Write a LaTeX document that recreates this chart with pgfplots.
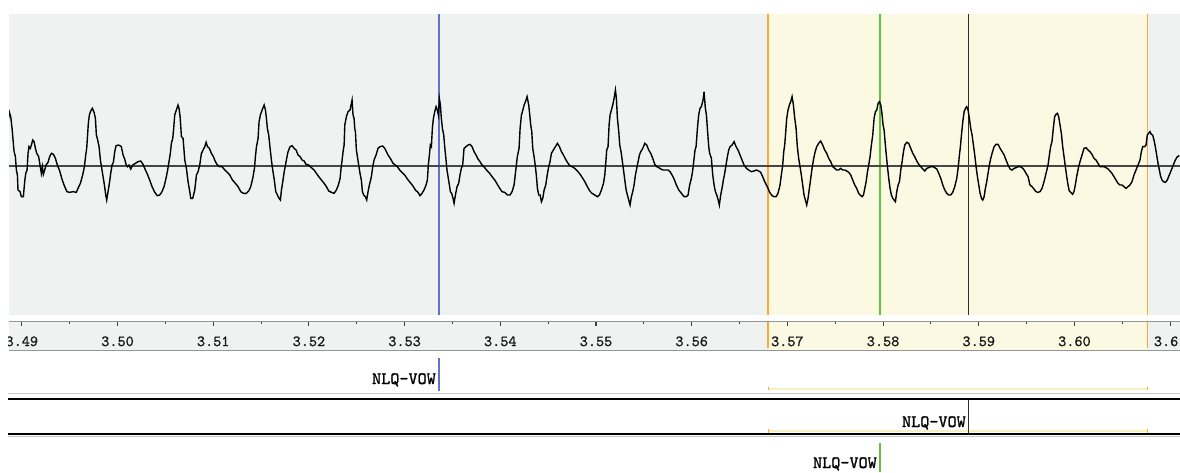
\documentclass[border=0pt]{standalone}
\usepackage{fontspec}
\usepackage{pgfplots}
\usepackage{pgfplotstable}
\pgfplotsset{compat=1.18}

\newfontfamily\labelmono[FakeBold=1.2]{lmmono10-regular.otf}

\definecolor{panelgray}{RGB}{240,241,241}
\definecolor{selyellow}{RGB}{251,249,226}
\definecolor{selstrip}{RGB}{247,239,190}
\definecolor{selorange}{RGB}{247,170,52}
\definecolor{curblue}{RGB}{92,118,196}
\definecolor{curgreen}{RGB}{96,190,64}
\definecolor{curblack}{RGB}{45,45,45}
\definecolor{zerogray}{RGB}{70,70,70}
\definecolor{rulerline}{RGB}{150,150,150}
\definecolor{tierlight}{RGB}{200,200,200}

% waveform samples: time (ms) and amplitude
\pgfplotstableread{
t a
3488.56 132
3488.70 160
3488.84 147
3488.98 112
3489.19 42
3489.33 27
3489.43 -13
3489.54 -28
3489.60 -73
3489.81 -78
3489.95 -93
3490.16 -93
3490.30 -48
3490.41 -23
3490.55 -13
3490.65 37
3490.75 57
3490.89 52
3491.00 62
3491.14 77
3491.28 72
3491.42 52
3491.56 37
3491.76 27
3491.90 2
3492.04 -23
3492.15 -3
3492.25 -26
3492.39 -13
3492.53 2
3492.74 10
3492.91 27
3493.09 37
3493.30 34
3493.51 22
3493.71 2
3493.96 -16
3494.20 -41
3494.48 -63
3494.72 -78
3495.00 -80
3495.35 -78
3495.70 -80
3495.87 -68
3496.12 -53
3496.36 -28
3496.54 -3
3496.68 32
3496.78 52
3496.85 82
3496.95 127
3497.06 152
3497.20 164
3497.37 172
3497.55 160
3497.69 142
3497.79 92
3497.93 77
3498.07 57
3498.21 17
3498.35 -8
3498.49 -33
3498.63 -58
3498.77 -88
3498.87 -103
3499.01 -78
3499.15 -53
3499.29 -23
3499.43 2
3499.57 10
3499.71 42
3499.85 60
3500.12 62
3500.40 57
3500.58 32
3500.75 20
3500.89 4
3501.03 -3
3501.20 2
3501.38 -10
3501.59 2
3501.87 7
3502.14 12
3502.42 14
3502.67 4
3502.84 -8
3503.08 -23
3503.36 -43
3503.61 -63
3503.89 -80
3504.16 -90
3504.41 -88
3504.65 -78
3504.86 -63
3505.07 -38
3505.24 -13
3505.38 12
3505.52 37
3505.63 67
3505.77 82
3505.87 112
3505.98 152
3506.15 167
3506.32 182
3506.43 172
3506.54 147
3506.68 87
3506.85 82
3507.03 17
3507.20 -8
3507.37 -48
3507.55 -78
3507.65 -98
3507.86 -98
3508.07 -73
3508.25 -28
3508.42 -18
3508.59 2
3508.77 37
3508.94 47
3509.12 57
3509.26 70
3509.40 57
3509.60 52
3509.81 37
3510.02 27
3510.23 12
3510.44 2
3510.68 -3
3510.93 -3
3511.21 -13
3511.48 -20
3511.73 -28
3512.01 -43
3512.32 -53
3512.60 -63
3512.88 -78
3513.16 -83
3513.47 -83
3513.71 -76
3513.92 -63
3514.13 -38
3514.31 -8
3514.41 27
3514.52 57
3514.69 82
3514.79 132
3514.93 152
3515.11 167
3515.32 182
3515.46 167
3515.56 142
3515.66 112
3515.80 92
3515.91 62
3516.08 17
3516.22 -13
3516.36 -38
3516.54 -78
3516.71 -88
3516.88 -98
3517.02 -103
3517.13 -73
3517.27 -48
3517.41 -20
3517.55 2
3517.68 22
3517.82 42
3518.03 57
3518.24 60
3518.45 52
3518.66 47
3518.87 32
3519.08 27
3519.29 17
3519.50 14
3519.70 4
3519.98 2
3520.26 -6
3520.54 -13
3520.78 -23
3521.03 -33
3521.31 -43
3521.59 -53
3521.83 -63
3522.07 -76
3522.35 -80
3522.63 -83
3522.87 -73
3523.08 -58
3523.26 -38
3523.36 -8
3523.47 17
3523.57 42
3523.68 62
3523.75 122
3523.92 147
3524.09 162
3524.30 167
3524.51 197
3524.61 152
3524.72 142
3524.79 112
3524.86 102
3524.96 47
3525.07 27
3525.20 2
3525.34 -23
3525.48 -43
3525.59 -78
3525.73 -88
3525.90 -93
3526.04 -103
3526.18 -78
3526.32 -58
3526.53 -33
3526.67 -3
3526.81 17
3527.02 32
3527.22 52
3527.43 57
3527.71 59
3527.92 52
3528.10 42
3528.27 32
3528.55 20
3528.79 7
3529.04 2
3529.24 -3
3529.49 -13
3529.73 -20
3530.01 -28
3530.29 -40
3530.57 -50
3530.85 -60
3531.13 -73
3531.40 -80
3531.61 -90
3531.82 -83
3532.03 -73
3532.24 -58
3532.38 -43
3532.48 2
3532.59 32
3532.69 62
3532.80 57
3532.90 112
3533.01 142
3533.15 162
3533.29 177
3533.42 167
3533.53 152
3533.63 202
3533.74 182
3533.84 142
3533.95 112
3534.09 92
3534.19 57
3534.33 17
3534.43 -13
3534.54 -33
3534.68 -58
3534.78 -78
3534.92 -83
3535.06 -98
3535.17 -113
3535.31 -88
3535.48 -63
3535.65 -53
3535.79 -28
3535.93 -8
3536.07 2
3536.21 52
3536.42 57
3536.63 62
3536.84 64
3537.05 57
3537.26 42
3537.46 32
3537.67 20
3537.88 12
3538.09 2
3538.37 -6
3538.65 -16
3538.89 -23
3539.14 -33
3539.42 -43
3539.69 -56
3539.94 -68
3540.18 -78
3540.46 -80
3540.74 -88
3541.02 -88
3541.23 -78
3541.44 -58
3541.58 -23
3541.68 2
3541.78 27
3541.96 52
3542.07 112
3542.21 152
3542.31 162
3542.49 182
3542.63 192
3542.80 207
3542.97 182
3543.08 152
3543.18 122
3543.29 102
3543.39 52
3543.53 27
3543.67 -3
3543.78 -33
3543.88 -68
3544.02 -88
3544.16 -88
3544.30 -108
3544.44 -98
3544.58 -73
3544.75 -58
3544.93 -23
3545.06 -3
3545.20 12
3545.34 37
3545.55 47
3545.76 57
3545.97 67
3546.18 57
3546.39 42
3546.60 32
3546.81 20
3547.01 10
3547.26 0
3547.50 -3
3547.78 -8
3548.06 -16
3548.34 -26
3548.62 -38
3548.83 -48
3549.10 -63
3549.35 -76
3549.59 -83
3549.87 -88
3550.15 -93
3550.36 -88
3550.57 -73
3550.78 -53
3550.92 -28
3551.02 7
3551.12 47
3551.26 57
3551.37 122
3551.47 152
3551.61 167
3551.75 182
3551.89 202
3552.03 227
3552.13 202
3552.24 142
3552.38 102
3552.48 62
3552.62 42
3552.76 12
3552.90 -18
3553.01 -43
3553.15 -73
3553.28 -88
3553.42 -103
3553.56 -118
3553.70 -93
3553.84 -78
3553.98 -58
3554.12 -28
3554.26 -8
3554.40 12
3554.54 32
3554.68 42
3554.89 52
3555.10 67
3555.30 62
3555.51 47
3555.72 37
3555.93 22
3556.14 4
3556.35 -3
3556.56 -6
3556.77 -10
3557.01 -13
3557.25 -13
3557.53 -13
3557.74 -18
3557.95 -28
3558.16 -40
3558.40 -58
3558.65 -73
3558.93 -83
3559.21 -93
3559.45 -93
3559.62 -88
3559.79 -58
3559.97 -38
3560.11 -13
3560.25 22
3560.35 47
3560.46 57
3560.60 112
3560.73 152
3560.87 172
3561.01 177
3561.19 197
3561.29 222
3561.43 172
3561.54 152
3561.64 112
3561.78 57
3561.88 37
3562.06 22
3562.20 -28
3562.34 -58
3562.48 -78
3562.62 -88
3562.77 -103
3562.89 -118
3563.03 -88
3563.17 -68
3563.31 -43
3563.45 -23
3563.59 2
3563.73 27
3563.87 47
3564.01 57
3564.22 62
3564.43 72
3564.64 57
3564.84 47
3565.05 32
3565.26 17
3565.47 2
3565.72 -8
3565.96 -13
3566.24 -18
3566.52 -16
3566.76 -13
3567.00 -16
3567.21 -20
3567.42 -33
3567.63 -48
3567.81 -58
3567.98 -68
3568.15 -80
3568.40 -90
3568.61 -93
3568.82 -93
3569.02 -83
3569.23 -58
3569.37 -28
3569.51 2
3569.62 42
3569.72 62
3569.83 102
3569.93 142
3570.07 167
3570.21 182
3570.35 192
3570.49 207
3570.63 182
3570.77 142
3570.91 112
3571.04 57
3571.18 22
3571.32 -3
3571.46 -28
3571.60 -58
3571.74 -88
3571.88 -103
3572.02 -118
3572.16 -98
3572.30 -68
3572.44 -38
3572.58 -8
3572.72 17
3572.86 37
3573.06 57
3573.27 67
3573.48 74
3573.69 62
3573.90 47
3574.11 37
3574.32 22
3574.53 12
3574.74 -3
3574.95 -8
3575.15 -13
3575.36 -13
3575.57 -8
3575.78 -13
3575.99 -13
3576.20 -16
3576.41 -20
3576.62 -28
3576.83 -43
3577.04 -58
3577.24 -68
3577.45 -83
3577.60 -88
3577.81 -93
3577.95 -88
3578.09 -68
3578.23 -48
3578.37 -18
3578.50 2
3578.64 27
3578.78 62
3578.92 92
3579.06 142
3579.20 162
3579.34 167
3579.48 187
3579.62 192
3579.76 182
3579.86 162
3580.00 122
3580.11 107
3580.21 72
3580.32 37
3580.46 -3
3580.59 -38
3580.73 -68
3580.87 -88
3581.01 -98
3581.15 -103
3581.29 -108
3581.43 -78
3581.57 -58
3581.71 -48
3581.85 -13
3581.99 12
3582.13 42
3582.27 62
3582.47 70
3582.68 67
3582.89 52
3583.10 37
3583.31 27
3583.52 14
3583.73 4
3583.94 -3
3584.15 -10
3584.36 -16
3584.56 -8
3584.77 -6
3584.98 -3
3585.19 -3
3585.40 -6
3585.61 -10
3585.82 -23
3586.03 -38
3586.24 -58
3586.45 -73
3586.65 -83
3586.86 -88
3587.07 -88
3587.28 -80
3587.49 -63
3587.70 -38
3587.84 -8
3587.98 32
3588.08 57
3588.19 92
3588.33 132
3588.47 162
3588.61 172
3588.74 177
3588.88 167
3589.02 142
3589.16 112
3589.30 92
3589.44 62
3589.58 32
3589.72 -3
3589.86 -33
3590.00 -58
3590.14 -83
3590.28 -98
3590.42 -103
3590.56 -93
3590.69 -68
3590.83 -48
3590.97 -23
3591.11 2
3591.25 22
3591.39 37
3591.60 57
3591.81 64
3592.02 64
3592.23 52
3592.44 42
3592.65 32
3592.85 17
3593.06 2
3593.27 -10
3593.48 -13
3593.69 -8
3593.90 -6
3594.11 -3
3594.32 -3
3594.53 -6
3594.74 -13
3594.94 -23
3595.15 -33
3595.35 -58
3595.56 -63
3595.77 -70
3595.98 -78
3596.19 -80
3596.40 -78
3596.61 -68
3596.82 -48
3597.03 -23
3597.24 2
3597.38 32
3597.51 57
3597.65 72
3597.79 112
3597.93 147
3598.07 154
3598.21 157
3598.35 147
3598.49 122
3598.63 97
3598.77 57
3598.91 27
3599.05 -3
3599.19 -33
3599.33 -58
3599.46 -76
3599.60 -80
3599.81 -86
3599.95 -78
3600.09 -58
3600.23 -33
3600.44 -3
3600.58 12
3600.79 32
3601.00 52
3601.21 54
3601.42 47
3601.62 42
3601.83 34
3602.04 22
3602.25 17
3602.46 7
3602.67 -3
3602.88 -3
3603.09 -3
3603.30 -6
3603.51 -10
3603.71 -16
3603.92 -23
3604.13 -33
3604.34 -43
3604.55 -53
3604.76 -58
3604.97 -58
3605.18 -63
3605.39 -68
3605.60 -63
3605.80 -58
3606.01 -48
3606.22 -28
3606.43 -13
3606.57 -3
3606.71 7
3606.85 17
3606.99 42
3607.13 57
3607.34 57
3607.48 62
3607.61 92
3607.75 97
3607.89 102
3608.03 94
3608.17 92
3608.31 77
3608.45 57
3608.59 32
3608.73 7
3608.87 -13
3609.01 -33
3609.15 -43
3609.29 -48
3609.50 -50
3609.70 -43
3609.91 -28
3610.12 -13
3610.33 2
3610.54 17
3610.75 27
3610.96 30
}\wave

\tikzset{tierlabel/.style={anchor=base east, inner sep=0pt, font=\labelmono\fontsize{13}{15}\selectfont}}

\begin{document}
\begin{tikzpicture}
\useasboundingbox (0,0) rectangle (885pt,-354pt);

% ---- waveform panel ----
\begin{axis}[
  at={(6.75pt,-10.5pt)}, anchor=north west,
  width=878.25pt, height=225.75pt, scale only axis,
  xmin=3488.66, xmax=3611.03, ymin=-448, ymax=455,
  axis line style={draw=none}, ticks=none,
  axis background/.style={fill=panelgray},
  clip=true]
  % selected interval
  \addplot[draw=none, fill=selyellow] coordinates {(3567.98,-448) (3607.59,-448) (3607.59,455) (3567.98,455)} -- cycle;
  % cursors and interval edges
  \addplot[selorange, line width=0.9pt] coordinates {(3567.98,-448) (3567.98,455)};
  \addplot[selorange, line width=0.9pt] coordinates {(3607.59,-448) (3607.59,455)};
  \addplot[curblue, line width=0.9pt] coordinates {(3533.60,-448) (3533.60,455)};
  \addplot[curgreen, line width=0.9pt] coordinates {(3579.68,-448) (3579.68,455)};
  \addplot[curblack, line width=0.9pt] coordinates {(3588.93,-448) (3588.93,455)};
  % zero line
  \addplot[zerogray, line width=1.5pt] coordinates {(3488.66,0) (3611.03,0)};
  % signal
  \addplot[black, line width=1.05pt, line join=miter] table[x=t, y=a] {\wave};
\end{axis}

% ---- time ruler ----
\draw[rulerline, line width=1.1pt] (6.75pt,-241.1pt) -- (885pt,-241.1pt);
\begin{scope}
\clip (6pt,-241.6pt) rectangle (885pt,-262.6pt);
\begin{axis}[
  at={(6.75pt,-241.6pt)}, anchor=north west,
  width=878.25pt, height=21pt, scale only axis,
  xmin=3488.66, xmax=3611.03, ymin=0, ymax=1,
  axis line style={draw=none}, ytick=\empty,
  axis background/.style={fill=panelgray},
  axis on top,
  xtick={3490,3500,...,3610},
  xticklabels={3.49,3.50,3.51,3.52,3.53,3.54,3.55,3.56,3.57,3.58,3.59,3.60,3.61},
  minor x tick num=1,
  xtick pos=right, xticklabel pos=left,
  tick align=inside,
  major tick length=3pt, minor tick length=1.2pt,
  tick style={black!75, line width=0.8pt},
  xticklabel style={font=\labelmono\fontsize{11.6}{13}\selectfont, text=black!90, anchor=center, yshift=6.6pt},
  clip=true]
  \addplot[draw=none, fill=selyellow] coordinates {(3567.98,0) (3607.59,0) (3607.59,1) (3567.98,1)} -- cycle;
  \addplot[selorange, line width=0.9pt] coordinates {(3567.98,0.06) (3567.98,1)};
  \addplot[selorange, line width=0.9pt] coordinates {(3607.59,0.06) (3607.59,1)};
\end{axis}
\end{scope}
\draw[rulerline, line width=1.1pt] (6.75pt,-263pt) -- (885pt,-263pt);

% ---- annotation tiers ----
\begin{axis}[
  at={(6.75pt,-262.5pt)}, anchor=north west,
  width=878.25pt, height=91.5pt, scale only axis,
  xmin=3488.66, xmax=3611.03, ymin=350, ymax=472, y dir=reverse,
  hide axis, clip=false]
  % tier borders
  \addplot[tierlight, line width=0.75pt] coordinates {(3488.56,393.5) (3611.03,393.5)};
  \addplot[black, line width=1.5pt] coordinates {(3488.56,399.3) (3611.03,399.3)};
  \addplot[black, line width=1.5pt] coordinates {(3488.56,433.5) (3611.03,433.5)};
  \addplot[tierlight, line width=0.75pt] coordinates {(3488.56,436.2) (3611.03,436.2)};
  % selected interval strips
  \addplot[selstrip, line width=1.6pt] coordinates {(3567.98,388.6) (3607.59,388.6)};
  \addplot[selorange, line width=0.75pt] coordinates {(3567.98,386.6) (3567.98,390.4)};
  \addplot[selorange, line width=0.75pt] coordinates {(3607.59,386.6) (3607.59,390.4)};
  \addplot[selstrip, line width=1.6pt] coordinates {(3567.98,431.0) (3607.59,431.0)};
  \addplot[selorange, line width=0.75pt] coordinates {(3567.98,429.0) (3567.98,432.6)};
  \addplot[selorange, line width=0.75pt] coordinates {(3607.59,429.0) (3607.59,432.6)};
  % boundaries
  \addplot[curblue, line width=0.9pt] coordinates {(3533.60,358) (3533.60,391)};
  \addplot[curblack, line width=0.9pt] coordinates {(3588.93,400) (3588.93,433)};
  \addplot[curgreen, line width=0.9pt] coordinates {(3579.68,443) (3579.68,472)};
  % labels
  \node[tierlabel] at (axis cs:3533.29,384) {NLQ-VOW};
  \node[tierlabel] at (axis cs:3588.67,427) {NLQ-VOW};
  \node[tierlabel] at (axis cs:3579.37,468) {NLQ-VOW};
\end{axis}
\end{tikzpicture}
\end{document}
